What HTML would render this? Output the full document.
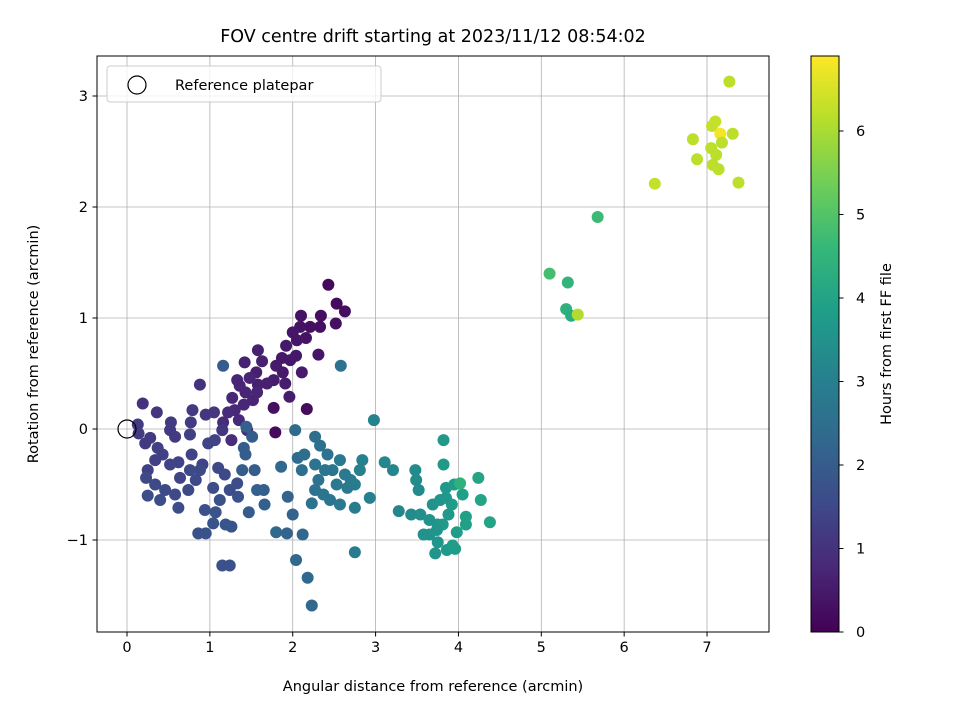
<!DOCTYPE html>
<html><head><meta charset="utf-8"><style>body{margin:0;background:#fff}svg{font-family:"DejaVu Sans","Liberation Sans",sans-serif}</style></head>
<body>
<svg id="chart" width="960" height="720" viewBox="0 0 960 720" xmlns="http://www.w3.org/2000/svg">
<rect width="960" height="720" fill="#fff"/>
<text x="433" y="42" font-size="17.5" text-anchor="middle">FOV centre drift starting at 2023/11/12 08:54:02</text>
<g id="grid"></g>
<g id="points"></g>
<rect x="97" y="56" width="672" height="576" fill="none" stroke="#000" stroke-width="1"/>
<g id="ticks"></g>
<text x="433" y="691" font-size="14.5" text-anchor="middle">Angular distance from reference (arcmin)</text>
<text x="38" y="344" font-size="14.5" text-anchor="middle" transform="rotate(-90 38 344)">Rotation from reference (arcmin)</text>
<g>
<rect x="107" y="66" width="274" height="36" rx="3" fill="#fff" fill-opacity="0.8" stroke="#ccc"/>
<circle cx="137" cy="85" r="9" fill="none" stroke="#000" stroke-width="1.2"/>
<text x="175" y="90" font-size="14.5">Reference platepar</text>
</g>
<defs><linearGradient id="vir" x1="0" y1="1" x2="0" y2="0"></linearGradient></defs>
<rect x="811" y="56" width="28" height="576" fill="url(#vir)" stroke="#000" stroke-width="1"/>
<g id="cbticks"></g>
<text x="891" y="344" font-size="14.5" text-anchor="middle" transform="rotate(-90 891 344)">Hours from first FF file</text>
</svg>
<script>
const xs=[2.43,2.53,2.63,2.52,2.34,2.33,2.21,2.10,2.09,2.16,2.31,2.05,2.00,1.92,1.87,1.97,2.04,2.11,1.88,1.91,1.96,1.80,1.77,1.69,1.58,1.56,1.58,1.63,1.42,1.33,1.43,1.27,1.30,1.41,1.52,1.57,1.77,1.79,2.17,1.22,1.26,1.16,1.35,1.45,1.36,1.48,
0.19,0.36,0.13,0.14,0.22,0.28,0.37,0.34,0.25,0.43,0.52,0.53,0.58,0.52,0.64,0.62,0.76,0.77,0.79,0.88,0.95,1.05,1.15,0.98,1.06,0.78,0.91,0.83,0.74,0.58,0.46,0.34,0.23,0.25,0.40,0.62,0.94,1.04,1.10,1.18,1.24,1.33,1.34,1.12,1.19,1.04,0.95,0.86,1.07,1.26,1.15,1.24,0.88,0.76,
1.16,1.44,1.41,1.39,1.54,1.57,1.65,1.66,1.47,1.43,1.51,1.86,1.80,1.93,1.94,2.00,2.04,2.18,2.23,2.12,2.03,2.06,2.14,2.11,2.27,2.58,2.33,2.42,2.27,2.31,2.27,2.37,2.23,2.45,2.57,2.48,2.39,2.57,2.66,2.75,2.75,2.81,2.84,2.70,2.93,2.98,2.75,2.63,2.53,
3.11,3.21,3.28,3.43,3.52,3.48,3.49,3.54,3.58,3.65,3.69,3.75,3.72,3.75,3.78,3.82,3.82,3.85,3.81,3.86,3.88,3.95,3.92,3.98,3.93,3.96,4.05,4.02,4.09,4.09,4.24,4.27,4.38,3.74,3.85,3.65,
5.10,5.32,5.30,5.36,5.44,5.68,
7.27,6.83,6.88,7.06,7.10,7.16,7.31,7.18,7.05,7.11,7.07,7.14,7.38,6.37];
const ys=[1.30,1.13,1.06,0.95,1.02,0.92,0.92,1.02,0.92,0.82,0.67,0.80,0.87,0.75,0.64,0.62,0.66,0.51,0.51,0.41,0.29,0.57,0.44,0.41,0.40,0.51,0.71,0.61,0.60,0.44,0.33,0.28,0.17,0.22,0.26,0.33,0.19,-0.03,0.18,0.15,-0.10,0.06,0.08,-0.01,0.39,0.46,
0.23,0.15,0.04,-0.04,-0.13,-0.08,-0.17,-0.28,-0.37,-0.23,-0.01,0.06,-0.07,-0.32,-0.44,-0.30,-0.05,0.06,0.17,0.40,0.13,0.15,-0.01,-0.13,-0.10,-0.23,-0.32,-0.46,-0.55,-0.59,-0.55,-0.50,-0.44,-0.60,-0.64,-0.71,-0.73,-0.53,-0.35,-0.41,-0.55,-0.49,-0.61,-0.64,-0.86,-0.85,-0.94,-0.94,-0.75,-0.88,-1.23,-1.23,-0.37,-0.37,
0.57,0.02,-0.17,-0.37,-0.37,-0.55,-0.55,-0.68,-0.75,-0.23,-0.07,-0.34,-0.93,-0.94,-0.61,-0.77,-1.18,-1.34,-1.59,-0.95,-0.01,-0.26,-0.23,-0.37,-0.07,0.57,-0.15,-0.23,-0.32,-0.46,-0.55,-0.59,-0.67,-0.64,-0.68,-0.37,-0.37,-0.28,-0.53,-0.71,-1.11,-0.37,-0.28,-0.46,-0.62,0.08,-0.50,-0.41,-0.50,
-0.30,-0.37,-0.74,-0.77,-0.55,-0.37,-0.46,-0.77,-0.95,-0.82,-0.68,-0.86,-1.12,-1.02,-0.64,-0.10,-0.32,-0.53,-0.86,-1.09,-0.77,-0.50,-0.68,-0.93,-1.05,-1.08,-0.59,-0.49,-0.79,-0.86,-0.44,-0.64,-0.84,-0.91,-0.62,-0.95,
1.40,1.32,1.08,1.02,1.03,1.91,
3.13,2.61,2.43,2.73,2.77,2.66,2.66,2.58,2.53,2.47,2.38,2.34,2.22,2.21];
const hours=[0.15,0.2,0.25,0.3,0.25,0.3,0.3,0.35,0.35,0.35,0.4,0.4,0.4,0.45,0.45,0.45,0.45,0.5,0.5,0.55,0.55,0.5,0.55,0.6,0.6,0.6,0.6,0.6,0.65,0.7,0.7,0.75,0.8,0.75,0.7,0.7,0.3,0.2,0.2,0.85,0.9,0.85,0.8,0.8,0.7,0.7,
1.0,1.1,1.2,1.2,1.2,1.2,1.3,1.3,1.3,1.3,1.2,1.2,1.2,1.4,1.4,1.4,1.3,1.2,1.2,1.0,1.1,1.1,1.1,1.4,1.4,1.4,1.4,1.5,1.5,1.5,1.5,1.5,1.5,1.6,1.6,1.6,1.7,1.6,1.5,1.5,1.6,1.6,1.7,1.7,1.8,1.8,1.7,1.7,1.8,1.8,1.7,1.7,1.5,1.5,
2.0,2.1,2.0,2.0,2.0,2.1,2.1,2.1,2.0,2.0,2.0,2.3,2.3,2.2,2.2,2.2,2.3,2.3,2.3,2.3,2.4,2.4,2.5,2.5,2.5,2.6,2.5,2.6,2.6,2.6,2.6,2.7,2.6,2.7,2.8,2.7,2.7,2.8,2.8,2.9,2.9,3.0,3.0,2.9,3.0,3.1,2.9,2.8,2.8,
3.2,3.2,3.2,3.3,3.3,3.3,3.3,3.4,3.5,3.5,3.5,3.6,3.6,3.6,3.6,3.7,3.7,3.7,3.7,3.7,3.7,3.8,3.8,3.8,3.8,3.8,3.9,4.4,3.9,3.9,4.0,4.0,4.0,3.6,3.7,3.5,
4.8,4.5,4.4,4.3,6.1,4.7,
6.2,6.2,6.2,6.3,6.3,6.8,6.2,6.2,6.2,6.2,6.2,6.2,6.2,6.3];
const xTicks=[0,1,2,3,4,5,6,7];
const yTicks=[-1,0,1,2,3];
const cTicks=[0,1,2,3,4,5,6];
const NS='http://www.w3.org/2000/svg';
const X=v=>127+v*82.86, Y=v=>429-v*111, CY=v=>632-v*83.5, HMAX=6.9;
const vir=[[68,1,84],[72,40,120],[62,74,137],[49,104,142],[38,130,142],[31,158,137],[53,183,121],[110,206,88],[181,222,43],[253,231,37]];
function col(h){let t=Math.max(0,Math.min(1,h/HMAX))*(vir.length-1);let i=Math.min(Math.floor(t),vir.length-2),f=t-i;const c=vir[i].map((a,k)=>Math.round(a+(vir[i+1][k]-a)*f));return `rgb(${c})`;}
function mk(tag,attrs,parent){const e=document.createElementNS(NS,tag);for(const k in attrs)e.setAttribute(k,attrs[k]);parent.appendChild(e);return e;}
const grid=document.getElementById('grid'),ticks=document.getElementById('ticks'),pts=document.getElementById('points'),cb=document.getElementById('cbticks');
xTicks.forEach(v=>{const gl=mk('line',{x1:X(v),x2:X(v),y1:56,y2:632,stroke:'#b0b0b0','stroke-width':0.8},grid);

mk('line',{x1:X(v),x2:X(v),y1:632,y2:636.5,stroke:'#000'},ticks);
const t=mk('text',{x:X(v),y:652,'font-size':14.5,'text-anchor':'middle'},ticks);t.textContent=v;
});
yTicks.forEach(v=>{const gl=mk('line',{x1:97,x2:769,y1:Y(v),y2:Y(v),stroke:'#b0b0b0','stroke-width':0.8},grid);

mk('line',{x1:92.5,x2:97,y1:Y(v),y2:Y(v),stroke:'#000'},ticks);
const t=mk('text',{x:88,y:Y(v)+5,'font-size':14.5,'text-anchor':'end'},ticks);t.textContent=v<0?'\u2212'+(-v):v;
});
xs.forEach((x,i)=>{const c=mk('circle',{cx:X(x),cy:Y(ys[i]),r:6,fill:col(hours[i])},pts);
});
const ref=mk('circle',{cx:X(0),cy:Y(0),r:9,fill:'none',stroke:'#000','stroke-width':1.2},pts);

const g=document.getElementById('vir');vir.forEach((c,i)=>mk('stop',{offset:i/(vir.length-1),'stop-color':`rgb(${c})`},g));
cTicks.forEach(v=>{mk('line',{x1:839,x2:843.5,y1:CY(v),y2:CY(v),stroke:'#000'},cb);
const t=mk('text',{x:856,y:CY(v)+5,'font-size':14.5},cb);t.textContent=v;
});
</script>
</body></html>
